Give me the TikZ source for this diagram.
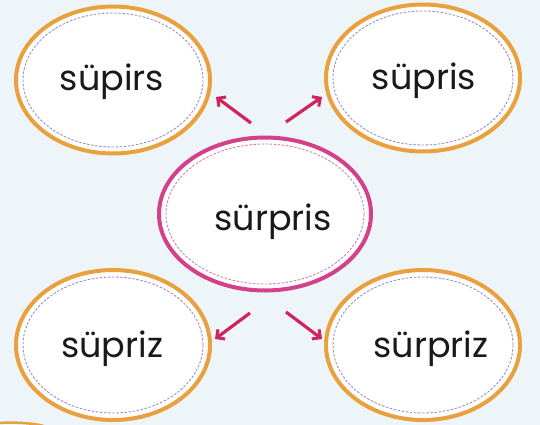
\documentclass[tikz,border=0pt]{standalone}
\usepackage{fontspec}
\setmainfont{Poppins}
\usetikzlibrary{shapes.geometric,arrows.meta}
\definecolor{bg}{HTML}{EEF5F9}
\definecolor{orng}{HTML}{E9A03E}
\definecolor{pnk}{HTML}{D2418A}
\definecolor{arr}{HTML}{D0245E}
\definecolor{dashp}{HTML}{9F8CC2}
\definecolor{dashpk}{HTML}{D680AE}
\tikzset{
  oval/.style={ellipse, draw=orng, line width=4pt, fill=white, inner sep=0pt},
  midoval/.style={ellipse, draw=pnk, line width=4pt, fill=white, inner sep=0pt},
  stitch/.style={draw=dashp, line width=0.9pt, dash pattern=on 2.5pt off 1.6pt},
  stitchpk/.style={draw=dashpk, line width=0.9pt, dash pattern=on 2.5pt off 1.6pt},
  word/.style={anchor=base, font=\fontsize{35}{38}\selectfont, text=black!90, inner sep=0pt},
  pointer/.style={draw=arr, line width=3.2pt, -{Straight Barb[length=6pt,width=12pt,line width=3pt]}}
}
\begin{document}
\begin{tikzpicture}[x=1pt,y=-1pt]
\fill[bg] (0,0) rectangle (540,425);
\useasboundingbox (0,0) rectangle (540,425);
% stray orange edge bottom-left
\draw[orng, line width=2.5pt] (-2,423) .. controls (15,422) and (32,423) .. (44,426);
% ovals
\node[oval, minimum width=194pt, minimum height=147pt] (tl) at (113,80) {};
\node[oval, minimum width=194pt, minimum height=147pt] (tr) at (423,78) {};
\node[oval, minimum width=194pt, minimum height=150pt] (bl) at (113,345) {};
\node[oval, minimum width=194pt, minimum height=150pt] (br) at (423,345) {};
\node[midoval, minimum width=212pt, minimum height=153pt] (mid) at (265,214) {};
\draw[stitch] (tl.center) ellipse [x radius=90, y radius=67];
\draw[stitch] (tr.center) ellipse [x radius=90, y radius=67];
\draw[stitch] (bl.center) ellipse [x radius=90, y radius=68];
\draw[stitch] (br.center) ellipse [x radius=90, y radius=68];
\draw[stitchpk] (mid.center) ellipse [x radius=99, y radius=70];
% words
\node[word] (wtl) at (112,91) {süpirs};
\node[word] (wtr) at (424,90) {süpris};
\node[word] (wmid) at (273,230) {sürpris};
\node[word] (wbl) at (112,357) {süpriz};
\node[word] (wbr) at (431,357) {sürpriz};
% arrows
\coordinate (a1s) at (251,123); \coordinate (a1e) at (216,97);
\coordinate (a2s) at (286,122); \coordinate (a2e) at (322,97);
\coordinate (a3s) at (250,313); \coordinate (a3e) at (215,339);
\coordinate (a4s) at (286,312); \coordinate (a4e) at (322,339);
\draw[pointer] (a1s) -- (a1e);
\draw[pointer] (a2s) -- (a2e);
\draw[pointer] (a3s) -- (a3e);
\draw[pointer] (a4s) -- (a4e);
\end{tikzpicture}
\end{document}
